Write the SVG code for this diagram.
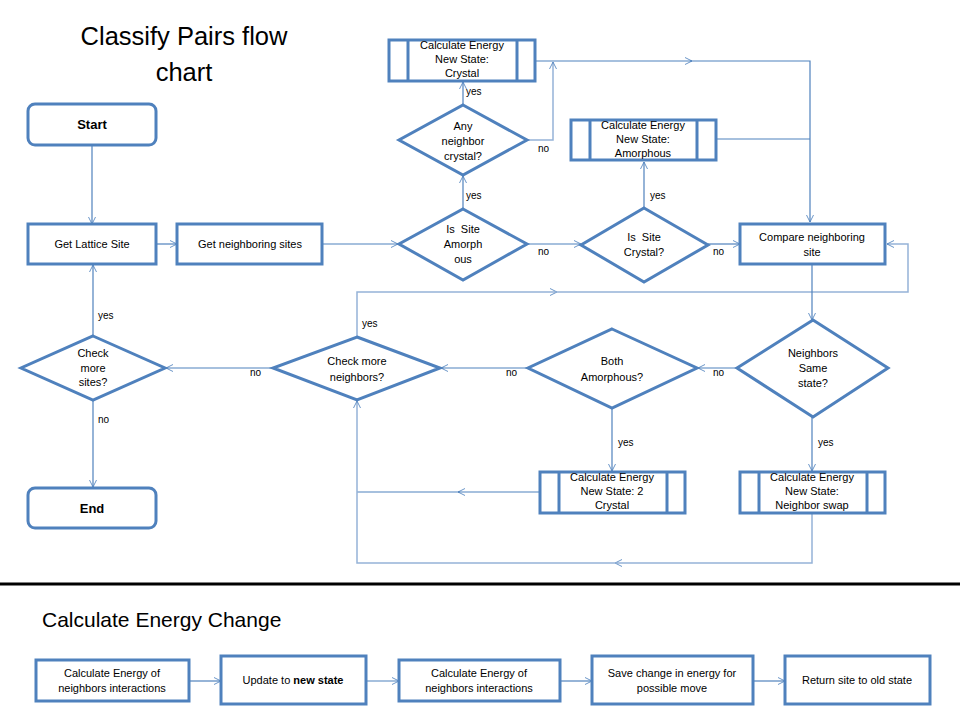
<svg xmlns="http://www.w3.org/2000/svg" width="960" height="720" viewBox="0 0 960 720">
<style>
.box{fill:#fff;stroke:#4F81BD;stroke-width:3}
.inner{stroke:#4F81BD;stroke-width:3;fill:none}
.t{font-family:"Liberation Sans",Arial,sans-serif;font-size:11px;fill:#000;text-anchor:middle;white-space:pre}
.lbl{font-family:"Liberation Sans",Arial,sans-serif;font-size:10px;fill:#000}
.b{font-weight:bold;font-size:13px}
.c{fill:none;stroke:#4F81BD;stroke-width:1.2}
.cl{fill:none;stroke:#95B3D7;stroke-width:1.5}
.title{font-family:"Liberation Sans",Arial,sans-serif;font-size:25.5px;fill:#000}
</style>
<defs>
<marker id="a" viewBox="0 0 10 10" refX="10" refY="5" markerWidth="7" markerHeight="12" markerUnits="userSpaceOnUse" orient="auto">
<path d="M0,0 L10,5 L0,10" fill="none" stroke="#4F81BD" stroke-width="1.2"/>
</marker>
</defs>
<rect width="960" height="720" fill="#fff"/>
<text class="title" x="184" y="45" text-anchor="middle">Classify Pairs flow</text>
<text class="title" x="184" y="81" text-anchor="middle">chart</text>

<g id="connectors">
<path class="c" d="M92,145 L92,224" marker-end="url(#a)"/>
<path class="c" d="M156,244 L177,244" marker-end="url(#a)"/>
<path class="c" d="M322,244 L398,244" marker-end="url(#a)"/>
<path class="c" d="M463,209 L463,176" marker-end="url(#a)"/>
<path class="c" d="M463,105 L463,82" marker-end="url(#a)"/>
<path class="cl" d="M527,140 L553,140 L553,62" marker-end="url(#a)"/>
<path class="c" d="M535,61 L692,61" marker-end="url(#a)"/>
<path class="c" d="M690,61 L810,61 L810,222" marker-end="url(#a)"/>
<path class="c" d="M716,139 L810,139"/>
<path class="c" d="M527,244 L581,244" marker-end="url(#a)"/>
<path class="c" d="M644,208 L644,162" marker-end="url(#a)"/>
<path class="c" d="M708,244 L740,244" marker-end="url(#a)"/>
<path class="cl" d="M357,337 L357,292 L557,292" marker-end="url(#a)"/>
<path class="cl" d="M555,292 L908,292 L908,244 L887,244" marker-end="url(#a)"/>
<path class="c" d="M812,263 L812,320" marker-end="url(#a)"/>
<path class="c" d="M737,368 L698,368" marker-end="url(#a)"/>
<path class="c" d="M812,417 L812,471" marker-end="url(#a)"/>
<path class="c" d="M612,408 L612,471" marker-end="url(#a)"/>
<path class="c" d="M540,492 L458,492" marker-end="url(#a)"/>
<path class="c" d="M460,492 L357,492"/>
<path class="cl" d="M812,513 L812,563 L615,563" marker-end="url(#a)"/>
<path class="cl" d="M617,563 L357,563 L357,401" marker-end="url(#a)"/>
<path class="c" d="M528,368 L441,368" marker-end="url(#a)"/>
<path class="c" d="M272,368 L166,368" marker-end="url(#a)"/>
<path class="c" d="M93,336 L93,265" marker-end="url(#a)"/>
<path class="c" d="M93,400 L93,487" marker-end="url(#a)"/>
<path class="c" d="M189,681 L221,681" marker-end="url(#a)"/>
<path class="c" d="M366,681 L399,681" marker-end="url(#a)"/>
<path class="c" d="M560,681 L592,681" marker-end="url(#a)"/>
<path class="c" d="M753,681 L785,681" marker-end="url(#a)"/>
</g>

<g id="labels">
<text class="lbl" x="466" y="199">yes</text>
<text class="lbl" x="466" y="95">yes</text>
<text class="lbl" x="538" y="152">no</text>
<text class="lbl" x="538" y="255">no</text>
<text class="lbl" x="650" y="199">yes</text>
<text class="lbl" x="713" y="255">no</text>
<text class="lbl" x="362" y="327">yes</text>
<text class="lbl" x="713" y="376">no</text>
<text class="lbl" x="818" y="446">yes</text>
<text class="lbl" x="506" y="376">no</text>
<text class="lbl" x="618" y="446">yes</text>
<text class="lbl" x="250" y="376">no</text>
<text class="lbl" x="98" y="319">yes</text>
<text class="lbl" x="98" y="423">no</text>
</g>

<g id="start">
<rect class="box" x="28" y="104" width="128" height="41" rx="7"/>
<text class="t b" x="92" y="129">Start</text>
</g>
<g id="get-lattice-site">
<rect class="box" x="28" y="224" width="128" height="40"/>
<text class="t" x="92" y="248">Get Lattice Site</text>
</g>
<g id="get-neighboring-sites">
<rect class="box" x="177" y="224" width="145" height="40"/>
<text class="t" x="250" y="248">Get neighboring sites</text>
</g>
<g id="is-site-amorphous">
<path class="box" d="M463,209 L527,244 L463,280 L399,244 Z"/>
<text class="t" x="463" y="233">Is  Site</text>
<text class="t" x="463" y="248">Amorph</text>
<text class="t" x="463" y="263">ous</text>
</g>
<g id="any-neighbor-crystal">
<path class="box" d="M463,105 L527,140 L463,175 L399,140 Z"/>
<text class="t" x="463" y="130">Any</text>
<text class="t" x="463" y="145">neighbor</text>
<text class="t" x="463" y="160">crystal?</text>
</g>
<g id="calc-crystal">
<rect class="box" x="389" y="40" width="146" height="41"/>
<path class="inner" d="M408,40 V81 M517,40 V81"/>
<text class="t" x="462" y="49">Calculate Energy</text>
<text class="t" x="462" y="63">New State:</text>
<text class="t" x="462" y="77">Crystal</text>
</g>
<g id="calc-amorphous">
<rect class="box" x="571" y="120" width="145" height="40"/>
<path class="inner" d="M590,120 V160 M697,120 V160"/>
<text class="t" x="643" y="129">Calculate Energy</text>
<text class="t" x="643" y="143">New State:</text>
<text class="t" x="643" y="157">Amorphous</text>
</g>
<g id="is-site-crystal">
<path class="box" d="M644,208 L708,245 L644,282 L581,245 Z"/>
<text class="t" x="644" y="241">Is  Site</text>
<text class="t" x="644" y="256">Crystal?</text>
</g>
<g id="compare-neighboring-site">
<rect class="box" x="740" y="224" width="145" height="40"/>
<text class="t" x="812" y="241">Compare neighboring</text>
<text class="t" x="812" y="256">site</text>
</g>
<g id="neighbors-same-state">
<path class="box" d="M813,320 L888,368 L813,417 L737,368 Z"/>
<text class="t" x="813" y="357">Neighbors</text>
<text class="t" x="813" y="372">Same</text>
<text class="t" x="813" y="387">state?</text>
</g>
<g id="both-amorphous">
<path class="box" d="M612,329 L697,368 L612,408 L528,368 Z"/>
<text class="t" x="612" y="365">Both</text>
<text class="t" x="612" y="381">Amorphous?</text>
</g>
<g id="calc-2-crystal">
<rect class="box" x="540" y="472" width="145" height="41"/>
<path class="inner" d="M559,472 V513 M667,472 V513"/>
<text class="t" x="612" y="481">Calculate Energy</text>
<text class="t" x="612" y="495">New State: 2</text>
<text class="t" x="612" y="509">Crystal</text>
</g>
<g id="calc-neighbor-swap">
<rect class="box" x="740" y="472" width="145" height="41"/>
<path class="inner" d="M759,472 V513 M867,472 V513"/>
<text class="t" x="812" y="481">Calculate Energy</text>
<text class="t" x="812" y="495">New State:</text>
<text class="t" x="812" y="509">Neighbor swap</text>
</g>
<g id="check-more-neighbors">
<path class="box" d="M357,337 L440,368 L357,400 L273,368 Z"/>
<text class="t" x="357" y="365">Check more</text>
<text class="t" x="357" y="381">neighbors?</text>
</g>
<g id="check-more-sites">
<path class="box" d="M93,336 L165,368 L93,400 L21,368 Z"/>
<text class="t" x="93" y="357">Check</text>
<text class="t" x="93" y="372">more</text>
<text class="t" x="93" y="386">sites?</text>
</g>
<g id="end">
<rect class="box" x="28" y="488" width="128" height="40" rx="7"/>
<text class="t b" x="92" y="513">End</text>
</g>

<line x1="0" y1="584" x2="960" y2="584" stroke="#000" stroke-width="3"/>
<text class="title" x="42" y="627" style="font-size:21px">Calculate Energy Change</text>

<g id="ce-calc-1">
<rect class="box" x="36" y="660" width="153" height="41"/>
<text class="t" x="112" y="677">Calculate Energy of</text>
<text class="t" x="112" y="692">neighbors interactions</text>
</g>
<g id="ce-update">
<rect class="box" x="221" y="656" width="145" height="48"/>
<text class="t" x="293" y="684">Update to <tspan font-weight="bold">new state</tspan></text>
</g>
<g id="ce-calc-2">
<rect class="box" x="399" y="660" width="161" height="41"/>
<text class="t" x="479" y="677">Calculate Energy of</text>
<text class="t" x="479" y="692">neighbors interactions</text>
</g>
<g id="ce-save">
<rect class="box" x="592" y="656" width="161" height="48"/>
<text class="t" x="672" y="677">Save change in energy for</text>
<text class="t" x="672" y="692">possible move</text>
</g>
<g id="ce-return">
<rect class="box" x="785" y="656" width="145" height="48"/>
<text class="t" x="857" y="684">Return site to old state</text>
</g>
</svg>
